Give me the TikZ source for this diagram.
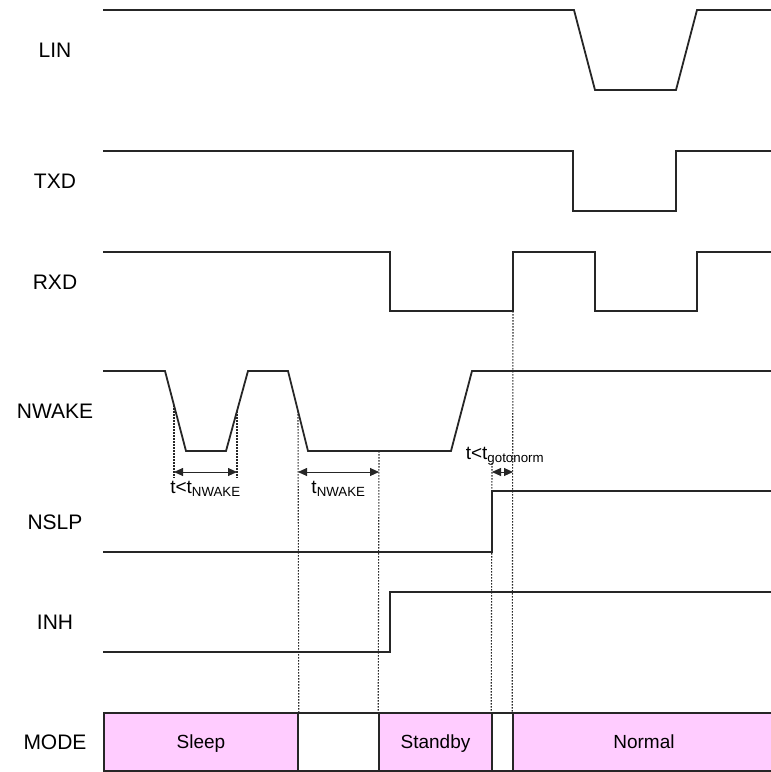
\documentclass[tikz,border=0pt]{standalone}
\usepackage{fontspec}
\setmainfont{Liberation Sans}
\usepackage{xcolor}
\definecolor{cLine}{HTML}{262626}
\definecolor{cMode}{HTML}{FFCCFF}
\usetikzlibrary{arrows.meta,calc}
\tikzset{
  sig-name/.style={font=\fontsize{21}{24}\selectfont,inner sep=0pt},
  sig-wave/.style={draw=cLine,line width=1.8pt},
  time-mark/.style={draw=cLine,dash pattern=on 1.5pt off 1.5pt,line width=1.1pt},
  time-span/.style={{Triangle[length=9pt,width=8pt]}-{Triangle[length=9pt,width=8pt]},
    line width=0.9pt,draw=cLine},
  time-text/.style={font=\fontsize{19}{22}\selectfont,inner sep=0pt},
  mode-box/.style={draw=cLine,line width=1.6pt,minimum height=58pt,inner sep=0pt,
    text height=13.6pt,text depth=0pt,font=\fontsize{19}{22}\selectfont},
  mode-on/.style={mode-box,fill=cMode},
}

\begin{document}
\begin{tikzpicture}[x=1pt,y=-1pt]
  \useasboundingbox (0,0) rectangle (771,772);

  % signal names
  \node[sig-name] (lin)   at (55,50)  {LIN};
  \node[sig-name] (txd)   at (55,181) {TXD};
  \node[sig-name] (rxd)   at (55,282) {RXD};
  \node[sig-name] (nwake) at (55,411) {NWAKE};
  \node[sig-name] (nslp)  at (55,522) {NSLP};
  \node[sig-name] (inh)   at (55,622) {INH};
  \node[sig-name] (mode)  at (55,742) {MODE};

  % waveforms
  \draw[sig-wave] (103,10) -- (574,10) -- (595,90) -- (676,90) -- (697,10) -- (772,10);
  \draw[sig-wave] (103,151) -- (573,151) -- (573,211) -- (676,211) -- (676,151) -- (772,151);
  \draw[sig-wave] (103,252) -- (390,252) -- (390,311) -- (513,311) -- (513,252)
    -- (595,252) -- (595,311) -- (697,311) -- (697,252) -- (772,252);
  \draw[sig-wave] (103,371) -- (165,371) -- (186,451) -- (226,451) -- (248,371)
    -- (288,371) -- (308,451) -- (451,451) -- (472,371) -- (772,371);
  \draw[sig-wave] (103,552) -- (492,552) -- (492,491) -- (772,491);
  \draw[sig-wave] (103,652) -- (390,652) -- (390,592) -- (772,592);

  % operating modes
  \node[mode-on]  (sleep)   at (201,742)   [minimum width=194pt] {Sleep};
  \node[mode-box] (gap-a)   at (338.5,742) [minimum width=81pt]  {};
  \node[mode-on]  (standby) at (435.5,742) [minimum width=113pt] {Standby};
  \node[mode-box] (gap-b)   at (502.5,742) [minimum width=21pt]  {};
  \node[mode-on]  (normal)  at (644,742)   [minimum width=262pt] {Normal};

  % timing marks
  \coordinate (span-row) at (0,472);
  \coordinate (m1) at (174,405);
  \coordinate (m2) at (237,411);
  \coordinate (m3) at (298,411);
  \coordinate (m4) at (379,451);
  \coordinate (m5) at (492,463);
  \coordinate (m6) at (513,311);
  \draw[time-mark] (m1) -- ($(m1 |- span-row)+(0,6)$);
  \draw[time-mark] (m2) -- ($(m2 |- span-row)+(0,6)$);
  \draw[time-mark] (m3) -- (sleep.north east);
  \draw[time-mark] (m4) -- (standby.north west);
  \draw[time-mark] (m5) -- (gap-b.north west);
  \draw[time-mark] (m6) -- (normal.north west);

  \draw[time-span] (m1 |- span-row) -- (m2 |- span-row)
    node[time-text,midway,below=9pt] (t-short) {t<t\textsubscript{NWAKE}};
  \draw[time-span] (m3 |- span-row) -- (m4 |- span-row)
    node[time-text,midway,below=9pt] (t-wake) {t\textsubscript{NWAKE}};
  \draw[time-span] (m5 |- span-row) -- (m6 |- span-row);
  \node[time-text] (t-norm) at (505,456) {t<t\textsubscript{gotonorm}};
\end{tikzpicture}
\end{document}
